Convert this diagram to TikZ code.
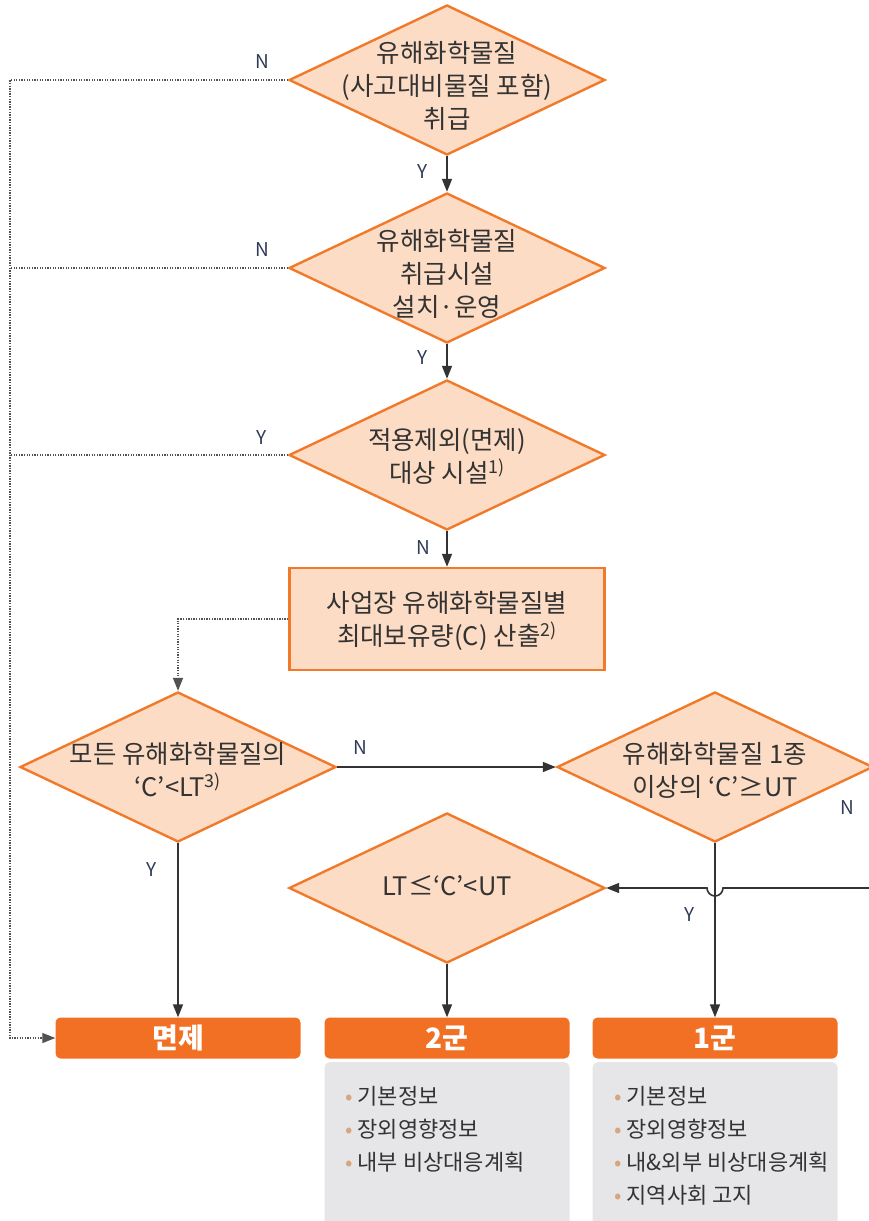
\documentclass[tikz,border=0pt]{standalone}
\usepackage{fontspec}
\setmainfont{Noto Sans CJK KR}
\usetikzlibrary{shapes.geometric,arrows.meta}
\definecolor{orng}{HTML}{F07A2A}
\definecolor{peach}{HTML}{FCDCC4}
\definecolor{hdr}{HTML}{F27024}
\definecolor{pale}{HTML}{E6E6E8}
\definecolor{ink}{HTML}{333333}
\definecolor{ynblue}{HTML}{2F3B57}
\definecolor{dotc}{HTML}{D9A57C}
\newcommand{\bul}{{\color{dotc}•}\hspace{5pt}}
\begin{document}
\begin{tikzpicture}[x=1pt,y=1pt,
    decision/.style={diamond, draw=orng, fill=peach, line width=2.4pt, inner sep=0pt, minimum width=316pt, minimum height=150pt},
    txt/.style={text=ink, font=\fontsize{25.5}{33}\selectfont, align=center},
    yn/.style={text=ynblue, font=\fontsize{19}{19}\selectfont},
    flow/.style={draw=ink, line width=1.6pt, -{Triangle[length=13pt,width=10pt]}},
    dots/.style={draw=ink!85, line width=1.3pt, dash pattern=on 1.3pt off 1.3pt},
    head/.style={fill=hdr, rounded corners=5pt, minimum width=245pt, minimum height=41pt, text=white, font=\fontsize{28}{28}\selectfont\bfseries},
    info/.style={fill=pale, rounded corners=5pt, minimum width=245pt, minimum height=170pt, anchor=north},
    list/.style={text=ink, font=\fontsize{22}{33}\selectfont, align=left, anchor=north west, inner sep=0pt}]
    \useasboundingbox (0,0) rectangle (868,-1221);
    % decisions
    \node[decision] (q1) at (447,-80) {};
    \node[txt] (q1t) at (447,-86) {유해화학물질\\(사고대비물질 포함)\\취급};
    \node[decision] (q2) at (447,-268) {};
    \node[txt] (q2t) at (447,-274) {유해화학물질\\취급시설\\설치·운영};
    \node[decision] (q3) at (447,-455) {};
    \node[txt] (q3t) at (447,-456) {적용제외(면제)\\대상 시설\textsuperscript{1)}};
    \node[draw=orng, fill=peach, line width=2.4pt, minimum width=315pt, minimum height=102pt] (calc) at (447,-619) {};
    \node[txt] (calct) at (447,-621) {사업장 유해화학물질별\\최대보유량(C) 산출\textsuperscript{2)}};
    \node[decision] (q4) at (178,-767) {};
    \node[txt] (q4t) at (178,-770) {모든 유해화학물질의\\‘C’<LT\textsuperscript{3)}};
    \node[decision] (q5) at (715,-767) {};
    \node[txt] (q5t) at (715,-770) {유해화학물질 1종\\이상의 ‘C’≥UT};
    \node[decision] (q6) at (447,-888) {};
    \node[txt] (q6t) at (447,-886) {LT≤‘C’<UT};
    % results
    \node[head] (exempt) at (178,-1038) {면제};
    \node[head] (grp2) at (447,-1038) {2군};
    \node[head] (grp1) at (715,-1038) {1군};
    \node[info] (grp2i) at (447,-1062) {};
    \node[info] (grp1i) at (715,-1062) {};
    \node[list] (grp2l) at (345,-1086) {\bul 기본정보\\\bul 장외영향정보\\\bul 내부 비상대응계획};
    \node[list] (grp1l) at (614,-1086) {\bul 기본정보\\\bul 장외영향정보\\\bul 내\&외부 비상대응계획\\\bul 지역사회 고지};
    % connectors
    \coordinate (rail) at (10,-1038);
    \coordinate (rt) at (885,-767);
    \draw[flow] (q1.south) -- (q2.north);
    \draw[flow] (q2.south) -- (q3.north);
    \draw[flow] (q3.south) -- (calc.north);
    \draw[dots, -{Triangle[length=13pt,width=10pt]}] (calc.west) -| (q4.north);
    \draw[flow] (q4.east) -- (q5.west);
    \draw[flow] (q4.south) -- (exempt.north);
    \draw[flow] (q6.south) -- (grp2.north);
    \draw[flow] (q5.south) -- (grp1.north);
    \draw[flow] (q5.east) -- (rt) |- (723,-888) arc[start angle=0, end angle=-180, radius=8pt] -- (q6.east);
    \draw[dots, -{Triangle[length=13pt,width=10pt]}] (q1.west) -| (rail) -- (exempt.west);
    \draw[dots] (q2.west) -- (q2.west -| rail);
    \draw[dots] (q3.west) -- (q3.west -| rail);
    % Y / N labels
    \node[yn] (l1) at (262,-62) {N};
    \node[yn] (l2) at (262,-250) {N};
    \node[yn] (l3) at (262,-438) {Y};
    \node[yn] (l4) at (423,-172) {Y};
    \node[yn] (l5) at (423,-358) {Y};
    \node[yn] (l6) at (423,-548) {N};
    \node[yn] (l7) at (360,-748) {N};
    \node[yn] (l8) at (152,-870) {Y};
    \node[yn] (l9) at (847,-808) {N};
    \node[yn] (l10) at (690,-915) {Y};
\end{tikzpicture}
\end{document}
